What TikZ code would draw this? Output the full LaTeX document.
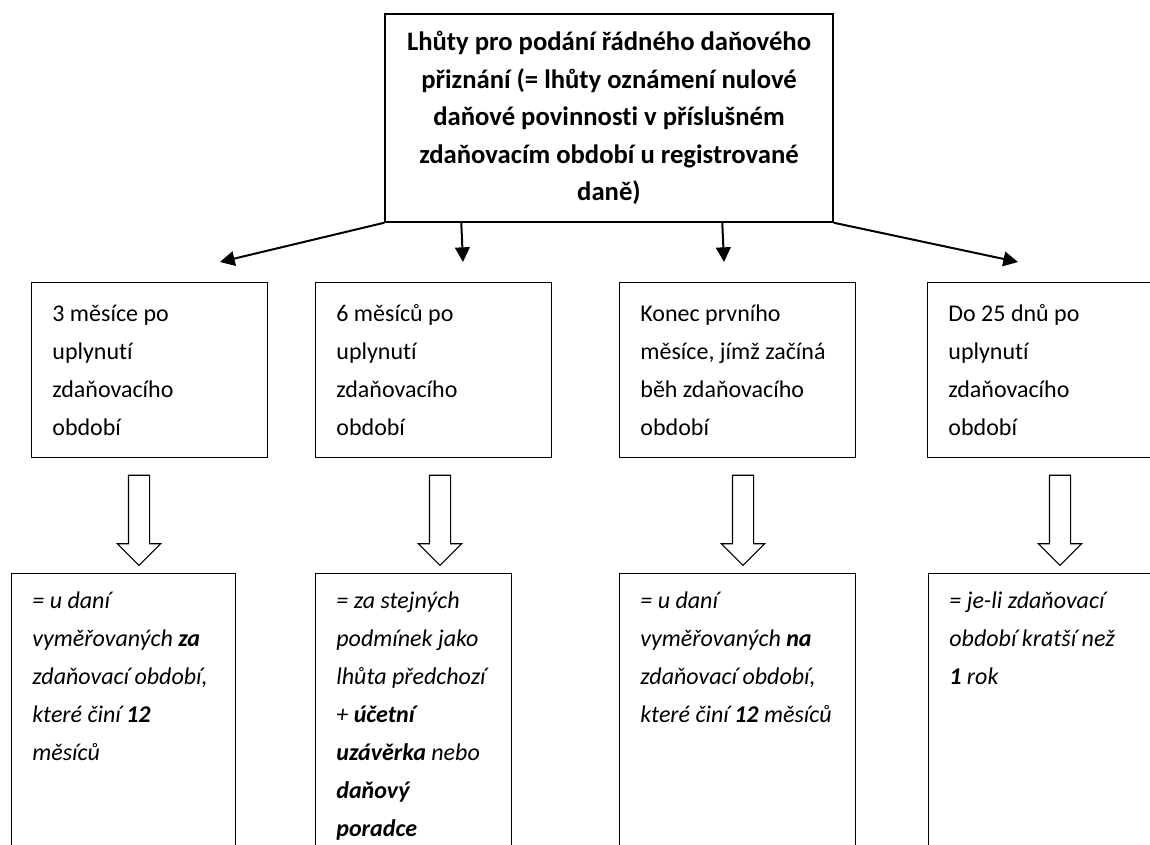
\documentclass[tikz,border=0pt]{standalone}
\usepackage{fontspec}
\setmainfont{Carlito}[Ligatures=CommonOff]
\usepackage{tikz}
\usetikzlibrary{arrows.meta,shapes.arrows}
\newcommand\lhfont{\fontsize{18}{28.5}\selectfont}
\tikzset{
  box/.style={draw=black, line width=1.1pt, inner xsep=15.5pt, inner ysep=0pt,
    align=flush left, anchor=north west},
  period/.style={box, minimum height=131.25pt, text width=146pt},
  lowbox/.style={box, text height=26.25pt, text depth=200pt, font=\lhfont\itshape},
  headbox/.style={box, anchor=center, align=flush center,
    font=\fontsize{20}{28.2}\selectfont\bfseries,
    inner xsep=10pt, text width=316pt, minimum height=156pt},
  flow/.style={-{Triangle[length=11pt,width=11pt]}, line width=1.5pt},
  hollow/.style={single arrow, draw=black, line width=0.8pt, fill=white,
    shape border rotate=270, inner sep=7.5pt, minimum height=67.5pt,
    minimum width=31.5pt, single arrow head extend=8.25pt}
}
\begin{document}
\begin{tikzpicture}[x=0.75pt, y=-0.75pt, font=\lhfont]
  \useasboundingbox (0,0) rectangle (1150,844);
  \clip (0,0) rectangle (1150,844);

  \node[headbox] (lhuty) at (609,118)
    {Lhůty pro podání řádného daňového\\ přiznání (= lhůty oznámení nulové\\
     daňové povinnosti v příslušném\\ zdaňovacím období u registrované\\ daně)};

  \node[period] (p3) at (31,282) {3 měsíce po\\ uplynutí\\ zdaňovacího\\ období};
  \node[period] (p6) at (315,282) {6 měsíců po\\ uplynutí\\ zdaňovacího\\ období};
  \node[period] (pk) at (619,282) {Konec prvního\\ měsíce, jímž začíná\\ běh zdaňovacího\\ období};
  \node[period] (p25) at (927,282) {Do 25 dnů po\\ uplynutí\\ zdaňovacího\\ období};

  \node[lowbox, text width=137pt] (d3) at (11,573)
    {= u daní\\ vyměřovaných \textbf{za}\\ zdaňovací období,\\ které činí \textbf{12}\\ měsíců};
  \node[lowbox, text width=116pt] (d6) at (315,573)
    {= za stejných\\ podmínek jako\\ lhůta předchozí\\ + \textbf{účetní}\\
     \textbf{uzávěrka} nebo\\ \textbf{daňový}\\ \textbf{poradce}};
  \node[lowbox, text width=146pt] (dk) at (619,573)
    {= u daní\\ vyměřovaných \textbf{na}\\ zdaňovací období,\\ které činí \textbf{12} měsíců};
  \node[lowbox, text width=146pt] (d25) at (928,573)
    {= je-li zdaňovací\\ období kratší než\\ \textbf{1} rok};

  \coordinate (t3) at (220,262);
  \coordinate (t6) at (463,262);
  \coordinate (tk) at (724,262);
  \coordinate (t25) at (1018,262);
  \draw[flow] (lhuty.south west) -- (t3);
  \draw[flow] (lhuty.south west) ++(77,0) -- (t6);
  \draw[flow] (lhuty.south west) ++(338,0) -- (tk);
  \draw[flow] (lhuty.south east) -- (t25);

  \foreach \x/\n in {139/a3,440/a6,743/ak,1060/a25}
    \node[hollow] (\n) at (\x,515) {};
\end{tikzpicture}
\end{document}
